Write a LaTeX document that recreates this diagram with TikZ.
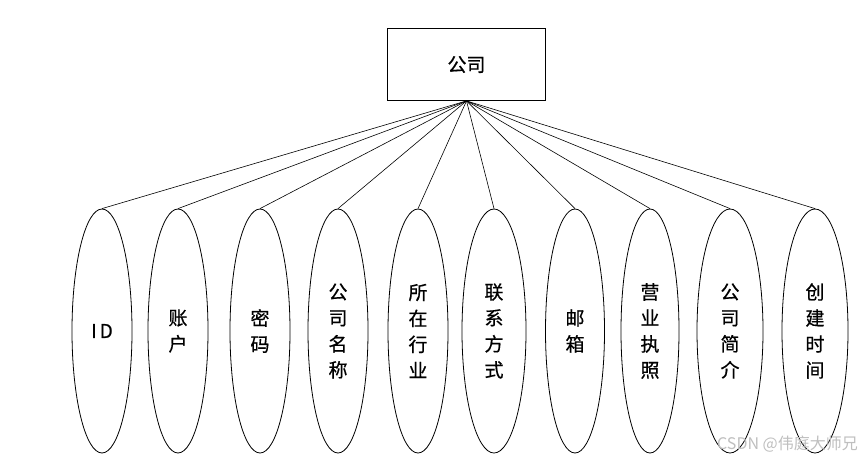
\documentclass[tikz,border=0pt]{standalone}
\usepackage{fontspec}
\newfontfamily\cjk[FakeBold=0.6]{Noto Sans CJK SC}
\newfontfamily\cjkwm{Noto Sans CJK SC}
\usetikzlibrary{shapes.geometric}
\begin{document}
\begin{tikzpicture}[x=1pt,y=-1pt,
  entity/.style={draw, line width=0.8pt, minimum width=158pt, minimum height=72pt, inner sep=0pt, font=\cjk\fontsize{19}{24}\selectfont},
  attr/.style={draw, line width=0.8pt, ellipse, inner sep=0pt, minimum height=244pt, align=center, font=\cjk\fontsize{19}{26}\selectfont},
  link/.style={line width=0.6pt}]
\useasboundingbox (0,0) rectangle (866,461);
\fill[white] (0,0) rectangle (866,461);
\node[entity] (e) at (466.5,64.5) {公司};
\node[attr, minimum width=60pt] (a1) at (102,331) {I\kern3pt D};
\node[attr, minimum width=60pt] (a2) at (178,331) {账\\户};
\node[attr, minimum width=60pt] (a3) at (260,331) {密\\码};
\node[attr, minimum width=60pt] (a4) at (338,331) {公\\司\\名\\称};
\node[attr, minimum width=60pt] (a5) at (418,331) {所\\在\\行\\业};
\node[attr, minimum width=64pt] (a6) at (494,331) {联\\系\\方\\式};
\node[attr, minimum width=59pt] (a7) at (575,331) {邮\\箱};
\node[attr, minimum width=58pt] (a8) at (650,331) {营\\业\\执\\照};
\node[attr, minimum width=66pt] (a9) at (730,331) {公\\司\\简\\介};
\node[attr, minimum width=66pt] (a10) at (815,331) {创\\建\\时\\间};
\foreach \i in {1,...,10} \draw[link] (e.south) -- (a\i.north);
\node[font=\cjkwm\fontsize{16}{18}\selectfont, text=black!25, anchor=east, inner sep=0pt] (wm) at (858,444) {CSDN @伟庭大师兄};
\end{tikzpicture}
\end{document}
